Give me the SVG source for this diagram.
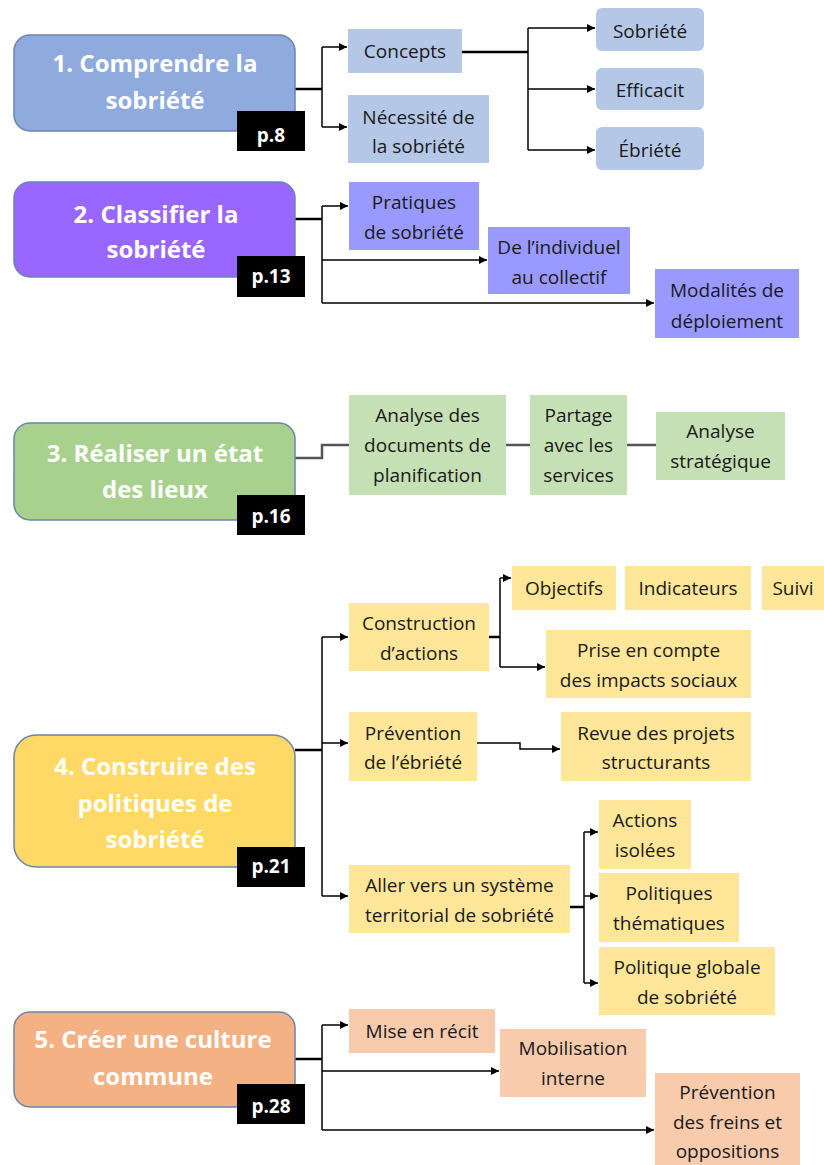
<svg xmlns="http://www.w3.org/2000/svg" width="824" height="1165" viewBox="0 0 824 1165">
<defs>
<marker id="arr" markerUnits="userSpaceOnUse" markerWidth="9" markerHeight="8" refX="8" refY="4" orient="auto">
<path d="M0,0 L8,4 L0,8 z" fill="#000"/>
</marker>
<style>
text{font-family:"Open Sans","Liberation Sans",sans-serif;text-anchor:middle}
.title{font-size:24px;font-weight:bold;fill:#fff}
.pg{font-size:19px;font-weight:bold;fill:#fff}
.sub{font-size:19px;fill:#1a1a1a}
.main{stroke:#6a84b0;stroke-width:1.5}
.page{fill:#000}
.c1{fill:#B4C7E7}.c2{fill:#9999FF}.c3{fill:#C5E0B4}.c4{fill:#FFE699}.c5{fill:#F8CBAD}
.ln{fill:none;stroke:#000;stroke-width:1.5}
.stub{fill:none;stroke:#000;stroke-width:2.5}
.ar{fill:none;stroke:#000;stroke-width:1.5;marker-end:url(#arr)}
.gl{fill:none;stroke:#555;stroke-width:2.5}
</style>
</defs>
<rect width="824" height="1165" fill="#fff"/>

<g id="connectors">
<!-- section 1 -->
<path class="stub" d="M295,89 H322"/>
<path class="ln" d="M322,47 V127"/>
<path class="ar" d="M322,47 H347"/>
<path class="ar" d="M322,127 H347"/>
<path class="stub" d="M462,52 H528"/>
<path class="ln" d="M528,28 V150"/>
<path class="ar" d="M528,28 H595"/>
<path class="ar" d="M528,89 H595"/>
<path class="ar" d="M528,150 H595"/>
<!-- section 2 -->
<path class="stub" d="M295,219 H322"/>
<path class="ln" d="M322,206 V303"/>
<path class="ar" d="M322,206 H348"/>
<path class="ar" d="M322,260 H487"/>
<path class="ar" d="M322,303 H654"/>
<!-- section 3 -->
<path class="gl" d="M295,458 H322 V445 H349"/>
<path class="gl" d="M506,445 H530"/>
<path class="gl" d="M627,445 H656"/>
<!-- section 4 -->
<path class="stub" d="M295,750 H322"/>
<path class="ln" d="M322,637 V896"/>
<path class="ar" d="M322,637 H348"/>
<path class="ar" d="M322,743 H348"/>
<path class="ar" d="M322,896 H348"/>
<path class="stub" d="M489,637 H500"/>
<path class="ln" d="M500,578 V667"/>
<path class="ar" d="M500,578 H511"/>
<path class="ar" d="M500,667 H545"/>
<path class="ar" d="M477,743 H520 V749 H560"/>
<path class="stub" d="M570,907 H584"/>
<path class="ln" d="M584,832 V983"/>
<path class="ar" d="M584,832 H598"/>
<path class="ar" d="M584,896 H598"/>
<path class="ar" d="M584,983 H598"/>
<!-- section 5 -->
<path class="stub" d="M295,1059 H322"/>
<path class="ln" d="M322,1025 V1130"/>
<path class="ar" d="M322,1025 H348"/>
<path class="ar" d="M322,1071 H499"/>
<path class="ar" d="M322,1130 H654"/>
</g>

<!-- Section 1 -->
<g id="s1">
<rect class="main" x="14" y="35" width="281" height="96" rx="16" fill="#8FAADC"/>
<text class="title" x="155" y="72">1. Comprendre la</text>
<text class="title" x="155" y="109">sobriété</text>
<rect class="page" x="237" y="111" width="68" height="40"/>
<text class="pg" x="271" y="142">p.8</text>
</g>
<g id="s1-concepts"><rect class="c1" x="348" y="29" width="114" height="44"/><text class="sub" x="405" y="58">Concepts</text></g>
<g id="s1-necessite"><rect class="c1" x="348" y="95" width="141" height="68"/><text class="sub" x="418.5" y="124">Nécessité de</text><text class="sub" x="418.5" y="153">la sobriété</text></g>
<g id="s1-sobriete"><rect class="c1" x="596" y="8" width="108" height="43" rx="6"/><text class="sub" x="650" y="38">Sobriété</text></g>
<g id="s1-efficacit"><rect class="c1" x="596" y="68" width="108" height="42" rx="6"/><text class="sub" x="650" y="97">Efficacit</text></g>
<g id="s1-ebriete"><rect class="c1" x="596" y="127" width="108" height="43" rx="6"/><text class="sub" x="650" y="157">Ébriété</text></g>

<!-- Section 2 -->
<g id="s2">
<rect class="main" x="14" y="182" width="281" height="95" rx="16" fill="#9966FF"/>
<text class="title" x="156" y="223">2. Classifier la</text>
<text class="title" x="156" y="258">sobriété</text>
<rect class="page" x="237" y="256" width="68" height="41"/>
<text class="pg" x="271" y="283">p.13</text>
</g>
<g id="s2-pratiques"><rect class="c2" x="349" y="182" width="130" height="68"/><text class="sub" x="414" y="209">Pratiques</text><text class="sub" x="414" y="239">de sobriété</text></g>
<g id="s2-individuel"><rect class="c2" x="488" y="227" width="142" height="67"/><text class="sub" x="559" y="254">De l’individuel</text><text class="sub" x="559" y="284">au collectif</text></g>
<g id="s2-modalites"><rect class="c2" x="655" y="269" width="144" height="69"/><text class="sub" x="727" y="297">Modalités de</text><text class="sub" x="727" y="328">déploiement</text></g>

<!-- Section 3 -->
<g id="s3">
<rect class="main" x="14" y="423" width="281" height="97" rx="16" fill="#A9D18E"/>
<text class="title" x="155" y="462">3. Réaliser un état</text>
<text class="title" x="155" y="498">des lieux</text>
<rect class="page" x="237" y="495" width="68" height="40"/>
<text class="pg" x="271" y="523">p.16</text>
</g>
<g id="s3-analyse-docs"><rect class="c3" x="349" y="395" width="157" height="100"/><text class="sub" x="427.5" y="422">Analyse des</text><text class="sub" x="427.5" y="452">documents de</text><text class="sub" x="427.5" y="482">planification</text></g>
<g id="s3-partage"><rect class="c3" x="530" y="395" width="97" height="100"/><text class="sub" x="578.5" y="422">Partage</text><text class="sub" x="578.5" y="452">avec les</text><text class="sub" x="578.5" y="482">services</text></g>
<g id="s3-strategique"><rect class="c3" x="656" y="412" width="129" height="68"/><text class="sub" x="720.5" y="438">Analyse</text><text class="sub" x="720.5" y="468">stratégique</text></g>

<!-- Section 4 -->
<g id="s4">
<rect class="main" x="14" y="735" width="281" height="132" rx="22" fill="#FFD966"/>
<text class="title" x="155" y="775">4. Construire des</text>
<text class="title" x="155" y="812">politiques de</text>
<text class="title" x="155" y="848">sobriété</text>
<rect class="page" x="237" y="847" width="68" height="40"/>
<text class="pg" x="271" y="873">p.21</text>
</g>
<g id="s4-construction"><rect class="c4" x="349" y="603" width="140" height="68"/><text class="sub" x="419" y="630">Construction</text><text class="sub" x="419" y="660">d’actions</text></g>
<g id="s4-objectifs"><rect class="c4" x="512" y="566" width="104" height="44"/><text class="sub" x="564" y="595">Objectifs</text></g>
<g id="s4-indicateurs"><rect class="c4" x="625" y="566" width="126" height="44"/><text class="sub" x="688" y="595">Indicateurs</text></g>
<g id="s4-suivi"><rect class="c4" x="762" y="566" width="62" height="44"/><text class="sub" x="793" y="595">Suivi</text></g>
<g id="s4-prise"><rect class="c4" x="546" y="630" width="205" height="68"/><text class="sub" x="648.5" y="657">Prise en compte</text><text class="sub" x="648.5" y="687">des impacts sociaux</text></g>
<g id="s4-prevention"><rect class="c4" x="349" y="712" width="128" height="69"/><text class="sub" x="413" y="740">Prévention</text><text class="sub" x="413" y="769">de l’ébriété</text></g>
<g id="s4-revue"><rect class="c4" x="561" y="712" width="190" height="69"/><text class="sub" x="656" y="740">Revue des projets</text><text class="sub" x="656" y="769">structurants</text></g>
<g id="s4-aller"><rect class="c4" x="349" y="865" width="221" height="68"/><text class="sub" x="459.5" y="892">Aller vers un système</text><text class="sub" x="459.5" y="922">territorial de sobriété</text></g>
<g id="s4-actions"><rect class="c4" x="599" y="800" width="92" height="69"/><text class="sub" x="645" y="827">Actions</text><text class="sub" x="645" y="857">isolées</text></g>
<g id="s4-thematiques"><rect class="c4" x="599" y="873" width="140" height="69"/><text class="sub" x="669" y="900">Politiques</text><text class="sub" x="669" y="930">thématiques</text></g>
<g id="s4-globale"><rect class="c4" x="599" y="947" width="176" height="68"/><text class="sub" x="687" y="974">Politique globale</text><text class="sub" x="687" y="1004">de sobriété</text></g>

<!-- Section 5 -->
<g id="s5">
<rect class="main" x="14" y="1012" width="281" height="95" rx="16" fill="#F4B183"/>
<text class="title" x="153" y="1048">5. Créer une culture</text>
<text class="title" x="153" y="1085">commune</text>
<rect class="page" x="237" y="1084" width="68" height="40"/>
<text class="pg" x="271" y="1113">p.28</text>
</g>
<g id="s5-recit"><rect class="c5" x="349" y="1009" width="146" height="44"/><text class="sub" x="422" y="1038">Mise en récit</text></g>
<g id="s5-mobilisation"><rect class="c5" x="500" y="1029" width="146" height="68"/><text class="sub" x="573" y="1055">Mobilisation</text><text class="sub" x="573" y="1085">interne</text></g>
<g id="s5-freins"><rect class="c5" x="655" y="1073" width="145" height="92"/><text class="sub" x="727.5" y="1099">Prévention</text><text class="sub" x="727.5" y="1129">des freins et</text><text class="sub" x="727.5" y="1158">oppositions</text></g>
</svg>
